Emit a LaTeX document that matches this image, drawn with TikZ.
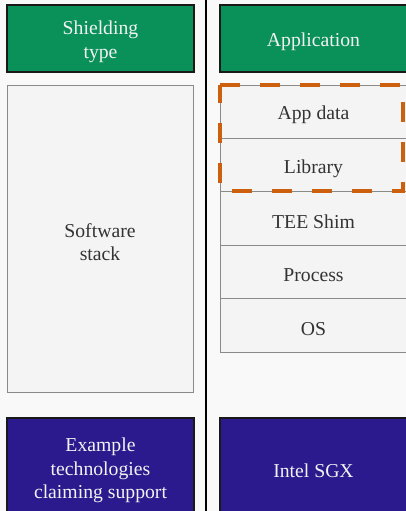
\documentclass[tikz,border=0pt]{standalone}
\usepackage{fontspec}
\setmainfont{Liberation Serif}
\definecolor{pagebg}{HTML}{F9F9F9}
\definecolor{boxfill}{HTML}{F4F4F4}
\definecolor{boxline}{HTML}{8A8A8A}
\definecolor{headgreen}{HTML}{0A9159}
\definecolor{techblue}{HTML}{2A1A8E}
\definecolor{shieldorange}{HTML}{CC600E}
\definecolor{darktext}{HTML}{333333}
\definecolor{lighttext}{HTML}{F2F2F2}
\begin{document}
\begin{tikzpicture}[x=1pt,y=-1pt,
  txt/.style={font=\fontsize{19.7}{23.6}\selectfont, align=center, inner sep=0pt, yshift=-3.5pt},
  header/.style={fill=headgreen, draw=black!90, line width=1.3pt,
    minimum width=187pt, minimum height=67pt,
    label={[txt, text=lighttext]center:#1}},
  layer/.style={fill=boxfill, draw=boxline, line width=1pt,
    minimum width=187pt,
    label={[txt, text=darktext]center:#1}},
  tech/.style={fill=techblue, draw=black!90, line width=1.3pt,
    minimum width=187pt, minimum height=98pt,
    label={[txt, text=lighttext]center:#1}},
  shield/.style={draw=shieldorange, line width=4.5pt, dash pattern=on 20pt off 20pt}
]
\useasboundingbox (0,0) rectangle (406,511);
\fill[pagebg] (0,0) rectangle (406,511);
\clip (0,0) rectangle (406,511);

% column headers
\node[header={Shielding\\type}] (shtype) at (100.5,38.5) {};
\node[header={Application}] (app) at (313.5,38.5) {};

% software stack column
\node[layer={Software\\stack}, minimum width=186pt, minimum height=307pt] (stack) at (100,238.5) {};

% application layers
\node[layer={App data}, minimum height=53.4pt] (appdata) at (313.5,111.7) {};
\node[layer={Library}, minimum height=53.4pt] (library) at (313.5,165.1) {};
\node[layer={TEE Shim}, minimum height=53.4pt] (shim) at (313.5,218.5) {};
\node[layer={Process}, minimum height=53.4pt] (process) at (313.5,271.9) {};
\node[layer={OS}, minimum height=53.4pt] (os) at (313.5,325.3) {};

% shielded region around app data and library
\coordinate (s1) at (220,85);
\coordinate (s2) at (403,85);
\coordinate (s3) at (403,191);
\coordinate (s4) at (220,191);
\draw[shield] (s1) -- (s2) -- (s3) -- (s4) -- cycle;

% example technologies
\node[tech={Example\\technologies\\claiming support}] (examples) at (100.5,467) {};
\node[tech={Intel SGX}] (sgx) at (313.5,467) {};

% column divider
\coordinate (dtop) at (206,0);
\coordinate (dbot) at (206,511);
\draw[line width=2.5pt, black] (dtop) -- (dbot);
\end{tikzpicture}
\end{document}
